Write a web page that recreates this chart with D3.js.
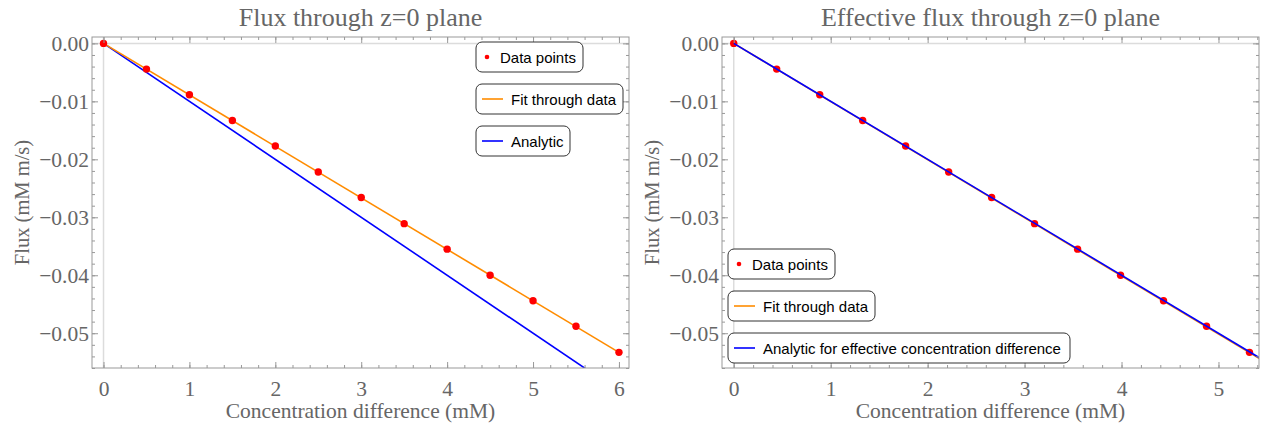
<!DOCTYPE html>
<html>
<head>
<meta charset="utf-8">
<script src="https://cdn.jsdelivr.net/npm/d3@7"></script>
<style>
  body { margin: 0; background: #fff; }
  svg text { font-family: "Liberation Serif", "DejaVu Serif", serif; }
</style>
</head>
<body>
<svg id="chart" width="1263" height="426"></svg>
<script>
// concentration difference (mM) and measured flux
var concLeft = [0, 0.5, 1, 1.5, 2, 2.5, 3, 3.5, 4, 4.5, 5, 5.5, 6];
var concEffective = [0, 0.443, 0.887, 1.330, 1.773, 2.217, 2.660, 3.103, 3.547, 3.990, 4.433, 4.877, 5.320];
var fluxData = [0, -0.00444, -0.00887, -0.0133, -0.0177, -0.0222, -0.0266, -0.0311, -0.0355, -0.0400, -0.0444, -0.0488, -0.0533];

// line end points [x, y]
var fitLeft = [[0, 0], [6, -0.0533]];
var analyticLeft = [[0, 0], [7, -0.070]];
var fitRight = [[0, 0], [5.5, -0.05517]];
var analyticRight = [[0, 0], [5.5, -0.0550]];

var xTicksLeft = [0, 1, 2, 3, 4, 5, 6];
var xTicksRight = [0, 1, 2, 3, 4, 5];
var yTicks = [0, -0.01, -0.02, -0.03, -0.04, -0.05];

var svg = d3.select("#chart");
var textGray = "#666";
var frameGray = "#999";

function drawPanel(p) {
  var g = svg.append("g");
  var x = d3.scaleLinear().domain(p.xDomain).range([p.left, p.right]);
  var y = d3.scaleLinear().domain([0.0011, -0.0560]).range([p.top, p.bottom]);

  var clipId = "clip" + p.id;
  g.append("clipPath").attr("id", clipId)
    .append("rect").attr("x", p.left).attr("y", p.top)
    .attr("width", p.right - p.left).attr("height", p.bottom - p.top);

  // axes through origin
  g.append("line").attr("x1", x(0)).attr("x2", x(0)).attr("y1", p.top).attr("y2", p.bottom)
    .attr("stroke", "#dcdcdc").attr("stroke-width", 1.5);
  g.append("line").attr("x1", p.left).attr("x2", p.right).attr("y1", y(0)).attr("y2", y(0))
    .attr("stroke", "#dcdcdc").attr("stroke-width", 1.5);

  var plot = g.append("g").attr("clip-path", "url(#" + clipId + ")");
  var line = d3.line().x(function(d) { return x(d[0]); }).y(function(d) { return y(d[1]); });

  p.lines.forEach(function(l) {
    plot.append("path").datum(l.pts).attr("d", line)
      .attr("fill", "none").attr("stroke", l.color).attr("stroke-width", 1.6);
  });
  plot.selectAll("circle.pt").data(p.xs).enter().append("circle")
    .attr("class", "pt")
    .attr("cx", function(d) { return x(d); })
    .attr("cy", function(d, i) { return y(fluxData[i]); })
    .attr("r", 3.7).attr("fill", "#ff0000");
  if (p.redrawTop) {
    plot.append("path").datum(p.redrawTop.pts).attr("d", line)
      .attr("fill", "none").attr("stroke", p.redrawTop.color).attr("stroke-width", 1.6);
  }

  // frame
  g.append("rect").attr("x", p.left).attr("y", p.top)
    .attr("width", p.right - p.left).attr("height", p.bottom - p.top)
    .attr("fill", "none").attr("stroke", frameGray).attr("stroke-width", 1);

  // ticks (inward)
  var xMinor = d3.range(Math.ceil(p.xDomain[0] / 0.2), Math.floor(p.xDomain[1] / 0.2) + 1).map(function(k) { return k * 0.2; });
  var yMinor = d3.range(-28, 1).map(function(k) { return k * 0.002; });

  var bottom = g.append("g").attr("transform", "translate(0," + p.bottom + ")")
    .call(d3.axisBottom(x).tickValues(xMinor).tickSize(-3).tickFormat(""));
  var bottomMajor = g.append("g").attr("transform", "translate(0," + p.bottom + ")")
    .call(d3.axisBottom(x).tickValues(p.xTicks).tickSize(-6).tickPadding(13).tickFormat(d3.format("d")));
  var top = g.append("g").attr("transform", "translate(0," + p.top + ")")
    .call(d3.axisTop(x).tickValues(xMinor).tickSize(-3).tickFormat(""));
  var topMajor = g.append("g").attr("transform", "translate(0," + p.top + ")")
    .call(d3.axisTop(x).tickValues(p.xTicks).tickSize(-6).tickFormat(""));
  var left = g.append("g").attr("transform", "translate(" + p.left + ",0)")
    .call(d3.axisLeft(y).tickValues(yMinor).tickSize(-3).tickFormat(""));
  var leftMajor = g.append("g").attr("transform", "translate(" + p.left + ",0)")
    .call(d3.axisLeft(y).tickValues(yTicks).tickSize(-6).tickPadding(3)
      .tickFormat(function(d) { return d3.format(".2f")(d).replace("-", "\u2212"); }));
  var right = g.append("g").attr("transform", "translate(" + p.right + ",0)")
    .call(d3.axisRight(y).tickValues(yMinor).tickSize(-3).tickFormat(""));
  var rightMajor = g.append("g").attr("transform", "translate(" + p.right + ",0)")
    .call(d3.axisRight(y).tickValues(yTicks).tickSize(-6).tickFormat(""));

  [bottom, bottomMajor, top, topMajor, left, leftMajor, right, rightMajor].forEach(function(a) {
    a.select(".domain").remove();
    a.selectAll("line").attr("stroke", frameGray);
    a.selectAll("text").attr("fill", textGray)
      .style("font-family", "'Liberation Serif', serif").style("font-size", "21.5px");
  });

  // title and labels
  g.append("text").attr("x", (p.left + p.right) / 2).attr("y", 26)
    .attr("text-anchor", "middle").attr("fill", textGray).style("font-size", "26px").text(p.title);
  g.append("text").attr("x", (p.left + p.right) / 2).attr("y", 418)
    .attr("text-anchor", "middle").attr("fill", textGray).style("font-size", "21.5px")
    .text("Concentration difference (mM)");
  g.append("text").attr("transform", "translate(" + (p.left - 63) + "," + ((p.top + p.bottom) / 2) + ") rotate(-90)")
    .attr("text-anchor", "middle").attr("fill", textGray).style("font-size", "20.5px")
    .text("Flux (mM m/s)");

  // legend
  p.legend.forEach(function(item) {
    var lg = g.append("g").attr("transform", "translate(" + item.x + "," + item.y + ")");
    lg.append("rect").attr("x", 0).attr("y", 0).attr("width", item.w).attr("height", 30)
      .attr("rx", 6).attr("ry", 6).attr("fill", "#fff").attr("stroke", "#333").attr("stroke-width", 1);
    if (item.type === "point") {
      lg.append("circle").attr("cx", 11).attr("cy", 15).attr("r", 2.3).attr("fill", "#ff0000");
      lg.append("text").attr("x", 24).attr("y", 20.5).text(item.label)
        .style("font-family", "'Liberation Sans', Arial, sans-serif").style("font-size", "15px").attr("fill", "#000");
    } else {
      lg.append("line").attr("x1", 6).attr("x2", 27).attr("y1", 15).attr("y2", 15)
        .attr("stroke", item.color).attr("stroke-width", 1.6);
      lg.append("text").attr("x", 35).attr("y", 20.5).text(item.label)
        .style("font-family", "'Liberation Sans', Arial, sans-serif").style("font-size", "15px").attr("fill", "#000");
    }
  });
}

drawPanel({
  id: "L", left: 92, right: 629, top: 37, bottom: 368,
  xDomain: [-0.134, 6.117], xs: concLeft, xTicks: xTicksLeft,
  title: "Flux through z=0 plane",
  lines: [{ pts: analyticLeft, color: "#0000ff" }, { pts: fitLeft, color: "#ff8c00" }],
  legend: [
    { type: "point", label: "Data points", x: 476, y: 42, w: 107 },
    { type: "line", label: "Fit through data", color: "#ff8c00", x: 476, y: 84, w: 147 },
    { type: "line", label: "Analytic", color: "#0000ff", x: 476, y: 126, w: 94 }
  ]
});

drawPanel({
  id: "R", left: 722, right: 1259, top: 37, bottom: 368,
  xDomain: [-0.121, 5.418], xs: concEffective, xTicks: xTicksRight,
  title: "Effective flux through z=0 plane",
  lines: [{ pts: fitRight, color: "#ff8c00" }],
  redrawTop: { pts: analyticRight, color: "#0000ff" },
  legend: [
    { type: "point", label: "Data points", x: 728, y: 249, w: 107 },
    { type: "line", label: "Fit through data", color: "#ff8c00", x: 728, y: 291, w: 147 },
    { type: "line", label: "Analytic for effective concentration difference", color: "#0000ff", x: 728, y: 333, w: 342 }
  ]
});
</script>
</body>
</html>
